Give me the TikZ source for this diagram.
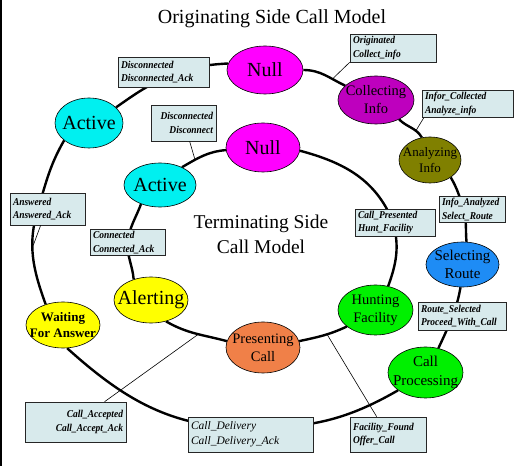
\documentclass[tikz,border=0pt]{standalone}
\usepackage{fontspec}
\setmainfont{Liberation Serif}
\newfontfamily\lblfont{Liberation Serif}[FakeStretch=0.9]
\usetikzlibrary{shapes.geometric}
\pgfdeclarelayer{bg}
\pgfsetlayers{bg,main}
\definecolor{cmag}{RGB}{255,0,255}
\definecolor{cpur}{RGB}{190,0,190}
\definecolor{coli}{RGB}{128,128,0}
\definecolor{cblu}{RGB}{30,140,245}
\definecolor{cgrn}{RGB}{0,240,0}
\definecolor{ccya}{RGB}{0,240,240}
\definecolor{cyel}{RGB}{255,255,0}
\definecolor{ccor}{RGB}{240,128,72}
\definecolor{lblfill}{RGB}{216,234,236}
\begin{document}
\begin{tikzpicture}[x=1pt,y=1pt,
  st/.style={ellipse, draw=black, line width=0.6pt, inner sep=0pt},
  big/.style={font=\fontsize{20}{24}\selectfont, align=center, inner sep=0pt},
  mid/.style={font=\fontsize{14.5}{18}\selectfont, align=center, inner sep=0pt},
  lbox/.style={draw=black!85, line width=0.7pt, fill=lblfill, inner xsep=3pt, inner ysep=2pt,
    font=\lblfont\bfseries\itshape\fontsize{10.5}{13.5}\selectfont},
  arcline/.style={line width=2.4pt, black},
  lead/.style={line width=0.6pt, black}]
\useasboundingbox (0,0) rectangle (520,466);
\draw[line width=2pt] (1,0) -- (1,466);

% title
\node[font=\fontsize{20}{24}\selectfont, anchor=base] (title) at (272,442) {Originating Side Call Model};
\node[font=\fontsize{19.5}{25}\selectfont, align=center] (term) at (261,232) {Terminating Side\\Call Model};

% outer states
\node[st, fill=cmag, minimum width=76pt, minimum height=48pt, label={[big]center:Null}] (oNull) at (265,396) {};
\node[st, fill=cpur, minimum width=76pt, minimum height=48pt, label={[mid]center:Collecting\\Info}] (oColl) at (376,366) {};
\node[st, fill=coli, minimum width=62pt, minimum height=46pt, label={[font=\fontsize{13}{16}\selectfont, align=center]center:Analyzing\\Info}] (oAnal) at (430,306) {};
\node[st, fill=cblu, minimum width=73pt, minimum height=45pt, label={[font=\fontsize{15}{18}\selectfont, align=center]center:Selecting\\Route}] (oSel) at (462.5,201.5) {};
\node[st, fill=cgrn, minimum width=75pt, minimum height=51pt, label={[font=\fontsize{15}{19}\selectfont, align=center]center:Call\\Processing}] (oProc) at (425.5,93.5) {};
\node[st, fill=cyel, minimum width=74pt, minimum height=46pt, label={[font=\bfseries\fontsize{13}{16}\selectfont, align=center]center:Waiting\\For Answer}] (oWait) at (63,141) {};
\node[st, fill=ccya, minimum width=68pt, minimum height=50pt, label={[big]center:Active}] (oAct) at (89,343) {};

% inner states
\node[st, fill=cmag, minimum width=74pt, minimum height=49pt, label={[big]center:Null}] (iNull) at (263,318.5) {};
\node[st, fill=ccya, minimum width=72pt, minimum height=44pt, label={[big]center:Active}] (iAct) at (160,281) {};
\node[st, fill=cyel, minimum width=74pt, minimum height=46pt, label={[big]center:Alerting}] (iAlert) at (151,166) {};
\node[st, fill=ccor, minimum width=74pt, minimum height=51pt, label={[mid]center:Presenting\\Call}] (iPres) at (263,118.5) {};
\node[st, fill=cgrn, minimum width=75pt, minimum height=50pt, label={[mid]center:Hunting\\Facility}] (iHunt) at (375.5,156) {};

% label boxes
\node[lbox, text width=85pt, minimum height=30pt, align=left] (b1) at (163.5,394) {Disconnected\\Disconnected\_Ack};
\node[lbox, text width=59pt, minimum height=36pt, align=right] (b2) at (183.5,343) {Disconnected\\Disconnect};
\node[lbox, text width=80pt, minimum height=28pt, align=left] (b3) at (393,418) {Originated\\Collect\_info};
\node[lbox, text width=85pt, minimum height=26pt, align=left] (b4) at (467.5,362) {Infor\_Collected\\Analyze\_info};
\node[lbox, text width=60pt, minimum height=25pt, align=left] (b5) at (472,256.5) {Info\_Analyzed\\Select\_Route};
\node[lbox, text width=74pt, minimum height=25pt, align=left] (b6) at (395,243.5) {Call\_Presented\\Hunt\_Facility};
\node[lbox, text width=82pt, minimum height=28pt, align=left] (b7) at (462,150) {Route\_Selected\\Proceed\_With\_Call};
\node[lbox, text width=69pt, minimum height=32pt, align=left] (b8) at (47.5,257) {Answered\\Answered\_Ack};
\node[lbox, text width=69pt, minimum height=25pt, align=left] (b9) at (127.5,223.5) {Connected\\Connected\_Ack};
\node[lbox, text width=95pt, minimum height=40pt, align=right] (b10) at (75.5,44) {Call\_Accepted\\Call\_Accept\_Ack};
\node[lbox, text width=119pt, minimum height=35pt, align=left, font=\itshape\fontsize{11.5}{15}\selectfont] (b11) at (250.5,31.5) {Call\_Delivery\\Call\_Delivery\_Ack};
\node[lbox, text width=70pt, minimum height=35pt, align=left] (b12) at (388,31.5) {Facility\_Found\\Offer\_Call};

% waypoints under boxes
\coordinate (w1) at (170,390);
\coordinate (w5) at (463.5,256);
\coordinate (w6) at (393,244);
\coordinate (w7) at (452.5,150);
\coordinate (w8) at (38,257);
\coordinate (w9) at (128,224);
\coordinate (w11) at (250.5,38);

\begin{pgfonlayer}{bg}
% outer cycle
\draw[arcline] (oNull.0) to[out=0, in=155] coordinate[pos=0.7] (l3) (oColl.155);
\draw[arcline] (oColl.-40) to[out=-45, in=120] coordinate[pos=0.7] (l4) (oAnal.110);
\draw[arcline] (oAnal.-40) to[out=-60, in=106] (w5) to[out=-74, in=95] (oSel.80);
\draw[arcline] (oSel.-95) to[out=-100, in=69] (w7) to[out=-111, in=65] (oProc.62);
\draw[arcline] (oProc.-147) to[out=-150, in=0] (w11) to[out=180, in=-42] (oWait.-80);
\draw[arcline] (oWait.130) to[out=110, in=-107] coordinate[pos=0.6] (l8) (w8) to[out=73, in=-120] (oAct.-145);
\draw[arcline] (oAct.30) to[out=35, in=-158] (w1) to[out=22, in=183] (oNull.170);
% inner cycle
\draw[arcline] (iNull.-5) to[out=-15, in=112] (w6) to[out=-75, in=70] (iHunt.62);
\draw[arcline] (iHunt.-150) to[out=-155, in=12] coordinate[pos=0.42] (l12) (iPres.10);
\draw[arcline] (iPres.170) to[out=165, in=-30] coordinate[pos=0.45] (l10) (iAlert.-55);
\draw[arcline] (iAlert.130) to[out=95, in=-95] (w9) to[out=85, in=-110] (iAct.-135);
\draw[arcline] (iAct.39) to[out=30, in=185] coordinate[pos=0.3] (l2) (iNull.184);
\end{pgfonlayer}

% thin leaders
\draw[lead] (b3.south west) -- (l3);
\draw[lead] ([xshift=2pt]b4.south west) -- (l4);
\draw[lead] ([xshift=39pt]b2.south west) -- (l2);
\draw[lead] ([xshift=31pt]b8.south west) -- (l8);
\draw[lead] ([xshift=80pt]b10.north west) -- (l10);
\draw[lead] ([xshift=27pt]b12.north west) -- (l12);
\end{tikzpicture}
\end{document}
